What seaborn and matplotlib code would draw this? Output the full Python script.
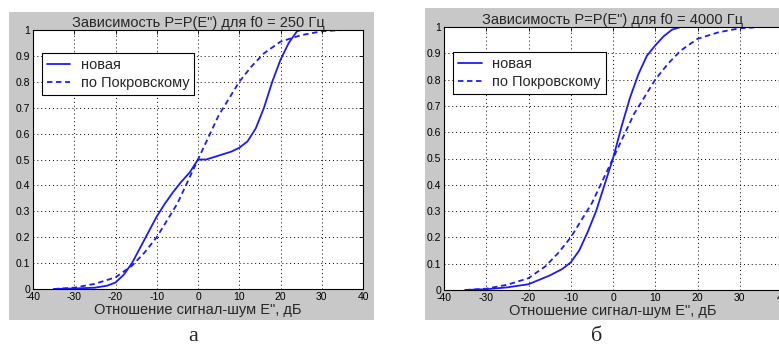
import matplotlib
matplotlib.use("Agg")
import matplotlib.pyplot as plt
from matplotlib.patches import Rectangle
import numpy as np
import pandas as pd
import seaborn as sns

# signal-to-noise ratio grid, dB
snr_pokr = [-35, -30, -25, -20, -16, -13, -10, -5, 0, 5, 10, 13, 16, 20, 25, 30, 35]
p_pokr = [0.0, 0.005, 0.02, 0.045, 0.09, 0.14, 0.2, 0.33, 0.5, 0.67, 0.8, 0.86, 0.91, 0.955, 0.98, 0.995, 1.0]

# f0 = 250 Hz, new method
snr_250 = [-35, -30, -25, -22, -20, -18, -16, -14, -12, -10, -8, -6, -4, -2, 0, 2, 4, 6, 8, 10,
           12, 14, 16, 18, 20, 22, 24, 25, 30, 35]
p_250 = [0.0, 0.002, 0.005, 0.013, 0.025, 0.055, 0.1, 0.16, 0.22, 0.28, 0.33, 0.375, 0.415, 0.45, 0.5, 0.5,
         0.51, 0.52, 0.53, 0.545, 0.57, 0.62, 0.7, 0.8, 0.885, 0.95, 0.995, 1.0, 1.0, 1.0]

# f0 = 4000 Hz, new method
snr_4000 = [-35, -30, -25, -20, -15, -12, -10, -8, -6, -4, -2, 0, 2, 4, 6, 8, 10, 12, 14, 16, 20, 25, 35]
p_4000 = [0.0, 0.003, 0.01, 0.022, 0.055, 0.08, 0.105, 0.15, 0.22, 0.3, 0.4, 0.5, 0.62, 0.73, 0.82, 0.89,
          0.93, 0.965, 0.99, 1.0, 1.0, 1.0, 1.0]

titles = ['Зависимость P=P(E") для f0 = 250 Гц', 'Зависимость P=P(E") для f0 = 4000 Гц']
xlabel = 'Отношение сигнал-шум E", дБ'
legend_labels = ["новая", "по Покровскому"]
panel_letters = ["а", "б"]
xticks = [-40, -30, -20, -10, 0, 10, 20, 30, 40]
yticks = [0, 0.1, 0.2, 0.3, 0.4, 0.5, 0.6, 0.7, 0.8, 0.9, 1.0]
ytick_labels = ["0", "0.1", "0.2", "0.3", "0.4", "0.5", "0.6", "0.7", "0.8", "0.9", "1"]

sns.set_style("white")
plt.rcParams["font.family"] = ["Liberation Sans", "DejaVu Sans"]

W, H = 779, 348
fig = plt.figure(figsize=(W / 100, H / 100), dpi=100)
fig.patch.set_facecolor("white")

gray = "#c8c8c8"
# grey MATLAB-style figure panels (pixel boxes)
for (x0, y0, x1, y1) in [(9, 12, 374, 320), (425, 8, 800, 320)]:
    fig.patches.append(Rectangle((x0 / W, 1 - y1 / H), (x1 - x0) / W, (y1 - y0) / H,
                                 transform=fig.transFigure, facecolor=gray, edgecolor="none", zorder=-10))

axes_px = [(33, 30, 363, 289), (444, 27, 782, 290)]
new_data = [(snr_250, p_250), (snr_4000, p_4000)]
legend_anchor = [(0.027, 0.911), (0.027, 0.905)]

for i, (x0, y0, x1, y1) in enumerate(axes_px):
    ax = fig.add_axes([x0 / W, 1 - y1 / H, (x1 - x0) / W, (y1 - y0) / H])
    ax.set_facecolor("white")
    df_new = pd.DataFrame({"snr": new_data[i][0], "p": new_data[i][1]})
    df_pokr = pd.DataFrame({"snr": snr_pokr, "p": p_pokr})
    sns.lineplot(data=df_new, x="snr", y="p", ax=ax, color="#1a1aff", linewidth=1.3,
                 label=legend_labels[0])
    sns.lineplot(data=df_pokr, x="snr", y="p", ax=ax, color="#1a1aff", linewidth=1.3,
                 linestyle=(0, (3, 2)), label=legend_labels[1])
    ax.set_xlim(-40, 40)
    ax.set_ylim(0, 1)
    ax.set_xticks(xticks)
    ax.set_xticklabels([str(t) for t in xticks])
    ax.set_yticks(yticks)
    ax.set_yticklabels(ytick_labels)
    ax.tick_params(direction="in", length=3, width=0.6, labelsize=7.5, pad=2,
                   top=True, right=True, colors="black")
    ax.grid(True, color="black", linestyle=(0, (1, 3)), linewidth=0.7)
    for s in ax.spines.values():
        s.set_color("black")
        s.set_linewidth(0.8)
    ax.set_title(titles[i], fontsize=10.5, pad=2)
    ax.set_xlabel(xlabel, fontsize=10.5, labelpad=1)
    ax.set_ylabel("")
    leg = ax.legend(loc="upper left", bbox_to_anchor=legend_anchor[i], borderaxespad=0,
                    fontsize=10.5, frameon=True, fancybox=False, framealpha=1,
                    edgecolor="black", handlelength=1.6, handletextpad=0.7,
                    borderpad=0.35, labelspacing=0.25)
    leg.get_frame().set_linewidth(0.8)

for letter, xp in zip(panel_letters, [193, 597]):
    fig.text(xp / W, 1 - 341 / H, letter, fontsize=16, family=["Liberation Serif", "DejaVu Serif"],
             ha="center", va="baseline")

fig.savefig("out.png", dpi=100)
